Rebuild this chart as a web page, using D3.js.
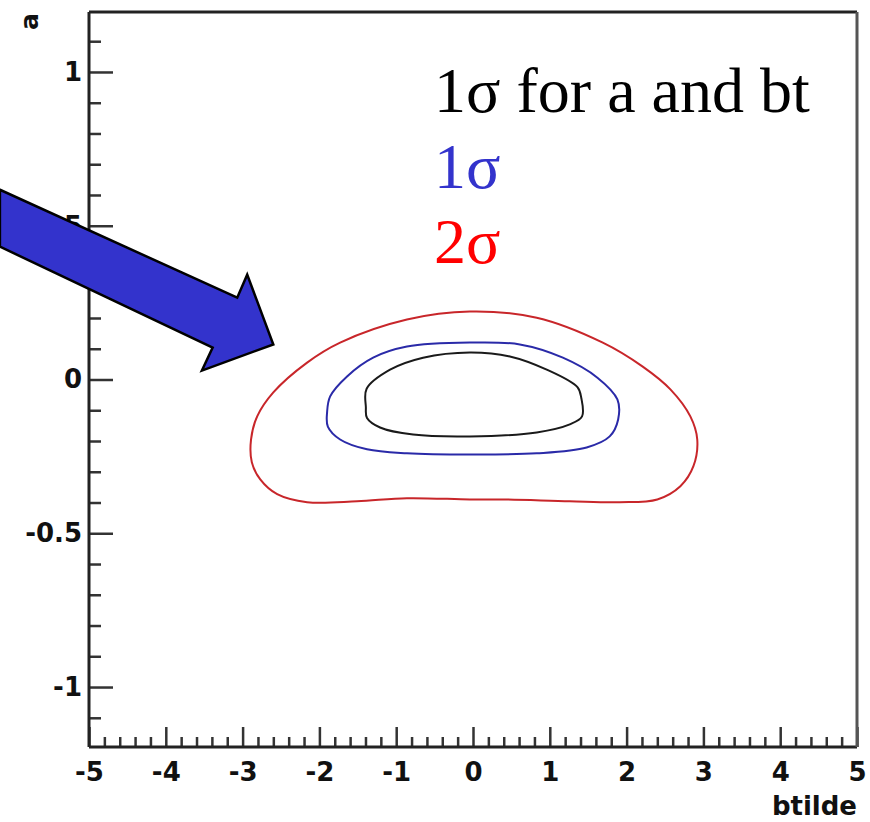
<!DOCTYPE html>
<html>
<head>
<meta charset="utf-8">
<script src="https://cdn.jsdelivr.net/npm/d3@7"></script>
<style>
body { margin: 0; background: #fff; }
</style>
</head>
<body>
<div id="chart"></div>
<script>
// contour points, [btilde, a]
var contourAB = [[-0.04,0.088],[0.48,0.075],[0.96,0.032],[1.36,-0.025],[1.41,-0.06],[1.42,-0.12],[1.26,-0.146],[0.83,-0.172],
  [-0.04,-0.185],[-0.78,-0.179],[-1.21,-0.156],[-1.38,-0.125],[-1.395,-0.09],[-1.385,-0.03],[-1.08,0.032],[-0.65,0.071]];
var contour1s = [[-0.04,0.12],[0.61,0.114],[1.17,0.071],[1.62,0.006],[1.88,-0.065],[1.89,-0.13],[1.78,-0.185],
  [1.48,-0.221],[0.83,-0.24],[-0.04,-0.244],[-0.86,-0.24],[-1.38,-0.227],[-1.73,-0.195],[-1.89,-0.153],
  [-1.9,-0.107],[-1.86,-0.055],[-1.64,0.01],[-1.3,0.071],[-0.86,0.107]];
var contour2s = [[-0.04,0.221],[0.83,0.201],[1.69,0.12],[2.21,0.042],[2.57,-0.032],[2.83,-0.12],[2.92,-0.195],
  [2.87,-0.282],[2.7,-0.347],[2.4,-0.39],[1.91,-0.399],[1.26,-0.396],[0.39,-0.39],[-0.04,-0.39],[-0.86,-0.386],
  [-1.51,-0.396],[-2.16,-0.399],[-2.55,-0.373],[-2.77,-0.325],[-2.88,-0.269],[-2.89,-0.195],[-2.81,-0.12],
  [-2.6,-0.042],[-2.16,0.055],[-1.73,0.12],[-0.86,0.195]];

var xTicks = [-5,-4,-3,-2,-1,0,1,2,3,4,5];
var yTicks = [-1,-0.5,0,0.5,1];
var legendText = ["1σ for a and bt", "1σ", "2σ"];
var legendColors = ["#000000", "#3333cc", "#ff0000"];
// arrow pointing at the contours, in data units
var arrowPts = [[-6.16,0.617],[-3.07,0.266],[-2.94,0.341],[-2.6,0.114],[-3.53,0.029],[-3.39,0.104],[-6.16,0.432]];

var W = 870, H = 822;
var pLeft = 89, pRight = 857, pTop = 12, pBottom = 747;

var svg = d3.select("#chart").append("svg")
    .attr("width", W)
    .attr("height", H);

var x = d3.scaleLinear().domain([-5, 5]).range([pLeft, pRight]);
var y = d3.scaleLinear().domain([-1.195, 1.195]).range([pBottom, pTop]);

// minor ticks
var xMinor = d3.range(-50, 51, 2).map(d => d / 10).filter(d => xTicks.indexOf(d) < 0);
var yMinor = d3.range(-11, 12, 1).map(d => d / 10).filter(d => yTicks.indexOf(d) < 0);

function styleAxis(g) {
  g.select(".domain").remove();
  g.selectAll("line").attr("stroke", "#333").attr("stroke-width", 2.5);
  g.selectAll("text")
    .attr("fill", "#111")
    .attr("font-family", "DejaVu Sans")
    .attr("font-weight", "bold")
    .attr("font-size", 26);
}

svg.append("g")
  .attr("transform", "translate(0," + pBottom + ")")
  .call(d3.axisBottom(x).tickValues(xMinor).tickSize(-10).tickFormat(""))
  .call(styleAxis);
svg.append("g")
  .attr("transform", "translate(0," + pBottom + ")")
  .call(d3.axisBottom(x).tickValues(xTicks).tickSize(-20).tickPadding(16).tickFormat(d => String(d)))
  .call(styleAxis);

svg.append("g")
  .attr("transform", "translate(" + pLeft + ",0)")
  .call(d3.axisLeft(y).tickValues(yMinor).tickSize(-12).tickFormat(""))
  .call(styleAxis);
svg.append("g")
  .attr("transform", "translate(" + pLeft + ",0)")
  .call(d3.axisLeft(y).tickValues(yTicks).tickSize(-24).tickPadding(7).tickFormat(d => String(d)))
  .call(styleAxis);

// frame
svg.append("line").attr("x1", pLeft).attr("x2", pLeft).attr("y1", pTop).attr("y2", pBottom)
  .attr("stroke", "#222").attr("stroke-width", 3);
svg.append("line").attr("x1", pLeft).attr("x2", pRight).attr("y1", pBottom).attr("y2", pBottom)
  .attr("stroke", "#222").attr("stroke-width", 3);
svg.append("line").attr("x1", pLeft).attr("x2", pRight).attr("y1", pTop).attr("y2", pTop)
  .attr("stroke", "#222").attr("stroke-width", 3);
svg.append("line").attr("x1", pRight).attr("x2", pRight).attr("y1", pTop).attr("y2", pBottom)
  .attr("stroke", "#555").attr("stroke-width", 3);

// axis titles
svg.append("text")
  .attr("x", pRight)
  .attr("y", 815)
  .attr("text-anchor", "end")
  .attr("font-family", "DejaVu Sans")
  .attr("font-weight", "bold")
  .attr("font-size", 26)
  .attr("fill", "#111")
  .text("btilde");
svg.append("text")
  .attr("transform", "translate(38," + (pTop + 1) + ") rotate(-90)")
  .attr("text-anchor", "end")
  .attr("font-family", "DejaVu Sans")
  .attr("font-weight", "bold")
  .attr("font-size", 25)
  .attr("fill", "#111")
  .text("a");

// contours
var line = d3.line()
  .x(d => x(d[0]))
  .y(d => y(d[1]))
  .curve(d3.curveCatmullRomClosed.alpha(0.5));

var contours = [
  {pts: contour2s, color: "#c8262a"},
  {pts: contour1s, color: "#2a2aa8"},
  {pts: contourAB, color: "#1a1a1a"}
];
svg.selectAll(".contour")
  .data(contours)
  .enter()
  .append("path")
    .attr("class", "contour")
    .attr("d", d => line(d.pts))
    .attr("fill", "none")
    .attr("stroke", d => d.color)
    .attr("stroke-width", 2);

// legend text
svg.selectAll(".leg")
  .data(legendText)
  .enter()
  .append("text")
    .attr("class", "leg")
    .attr("x", 434)
    .attr("y", (d, i) => 112 + i * 75.5)
    .attr("font-family", "Liberation Serif")
    .attr("font-size", 64)
    .attr("fill", (d, i) => legendColors[i])
    .text(d => d);

// arrow
svg.append("path")
  .attr("d", d3.line().x(d => x(d[0])).y(d => y(d[1])).curve(d3.curveLinearClosed)(arrowPts))
  .attr("fill", "#3333cc")
  .attr("stroke", "#000")
  .attr("stroke-width", 2.5)
  .attr("stroke-linejoin", "miter");
</script>
</body>
</html>
